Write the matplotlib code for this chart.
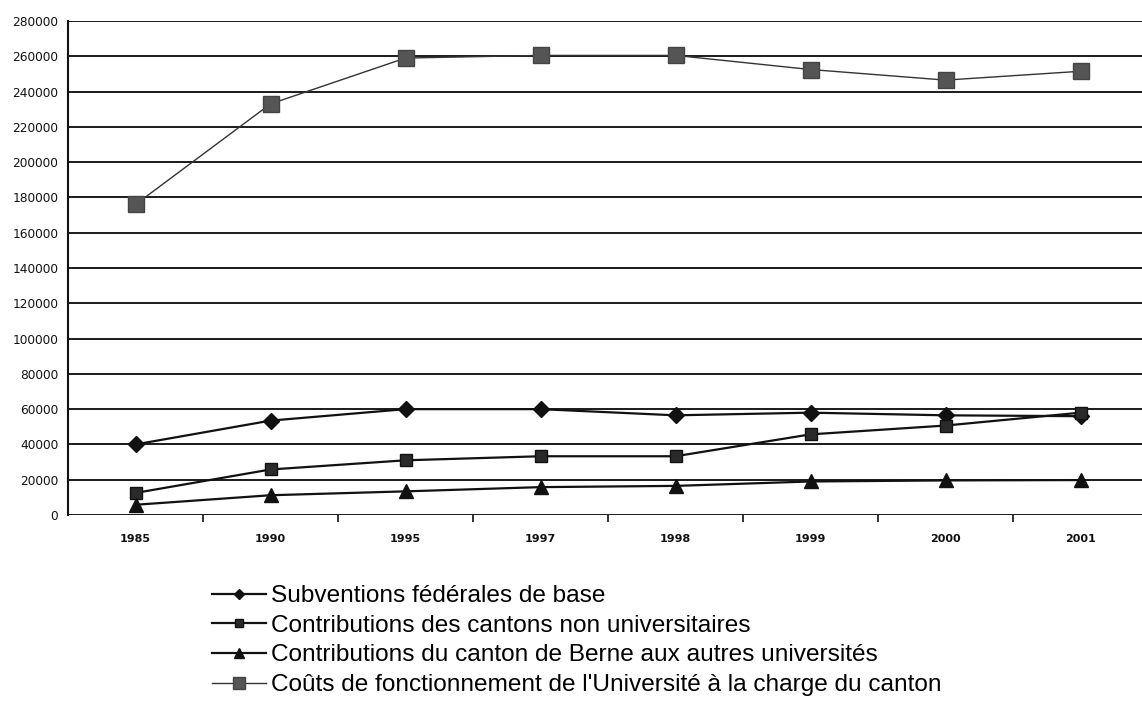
import numpy as np
import matplotlib
matplotlib.use("Agg")
import matplotlib.pyplot as plt

# annees (axe categoriel)
years = ["1985", "1990", "1995", "1997", "1998", "1999", "2000", "2001"]

# valeurs
subventionsFed = [40000, 53500, 60000, 60000, 56500, 58000, 56500, 56000]
contribCantons = [12500, 25800, 31000, 33300, 33300, 45700, 50700, 58000]
contribBerne = [5800, 11200, 13400, 15800, 16500, 19000, 19600, 19800]
coutsUni = [176000, 233000, 259000, 260500, 260500, 252500, 246500, 251500]

labels = ["Subventions fédérales de base",
          "Contributions des cantons non universitaires",
          "Contributions du canton de Berne aux autres universités",
          "Coûts de fonctionnement de l'Université à la charge du canton"]

yTicks = np.arange(0, 280001, 20000)

W, H = 1142, 702
fig = plt.figure(figsize=(W / 100, H / 100), dpi=100)
fig.patch.set_facecolor("white")

left = 68 / W
bottom = 1 - 515 / H
top = 1 - 21 / H
ax = fig.add_axes([left, bottom, (1148 - 68) / W, top - bottom])

x = np.arange(len(years))

ax.plot(x, subventionsFed, color="#111111", lw=1.6, marker="D", ms=8,
        mfc="#111111", mec="#111111", label=labels[0], zorder=4)
ax.plot(x, contribCantons, color="#111111", lw=1.6, marker="s", ms=9,
        mfc="#2a2a2a", mec="#111111", label=labels[1], zorder=4)
ax.plot(x, contribBerne, color="#111111", lw=1.6, marker="^", ms=10,
        mfc="#111111", mec="#111111", label=labels[2], zorder=4)
ax.plot(x, coutsUni, color="#333333", lw=1.0, marker="s", ms=12,
        mfc="#555555", mec="#444444", label=labels[3], zorder=4)

ax.set_xlim(-0.5, len(years) - 0.5)
ax.set_ylim(0, 280000)

ax.set_yticks(yTicks)
ax.set_yticklabels([str(v) for v in yTicks])
ax.tick_params(axis="y", length=0, pad=7, labelsize=8.7, colors="#111111")
for v in yTicks:
    ax.axhline(v, color="#1a1a1a", lw=1.4, zorder=1)

ax.set_xticks(x)
ax.set_xticklabels(years, fontsize=8, fontweight="bold")
ax.tick_params(axis="x", which="major", length=0, pad=14, colors="#111111")
ax.set_xticks(np.arange(0.5, len(years) - 0.5, 1), minor=True)
ax.tick_params(axis="x", which="minor", length=5, width=1.2, direction="out",
               color="#111111")

for side in ["top", "right", "bottom"]:
    ax.spines[side].set_visible(False)
ax.spines["left"].set_linewidth(1.5)
ax.spines["left"].set_color("#111111")

leg = fig.legend(loc="upper left", bbox_to_anchor=(190 / W, 1 - 563 / H),
                 frameon=False, prop={"family": "Liberation Sans", "size": 17.6},
                 handlelength=2.2, handletextpad=0.2, labelspacing=0.31,
                 markerscale=0.7)

fig.savefig("out.png", dpi=100, facecolor="white")
